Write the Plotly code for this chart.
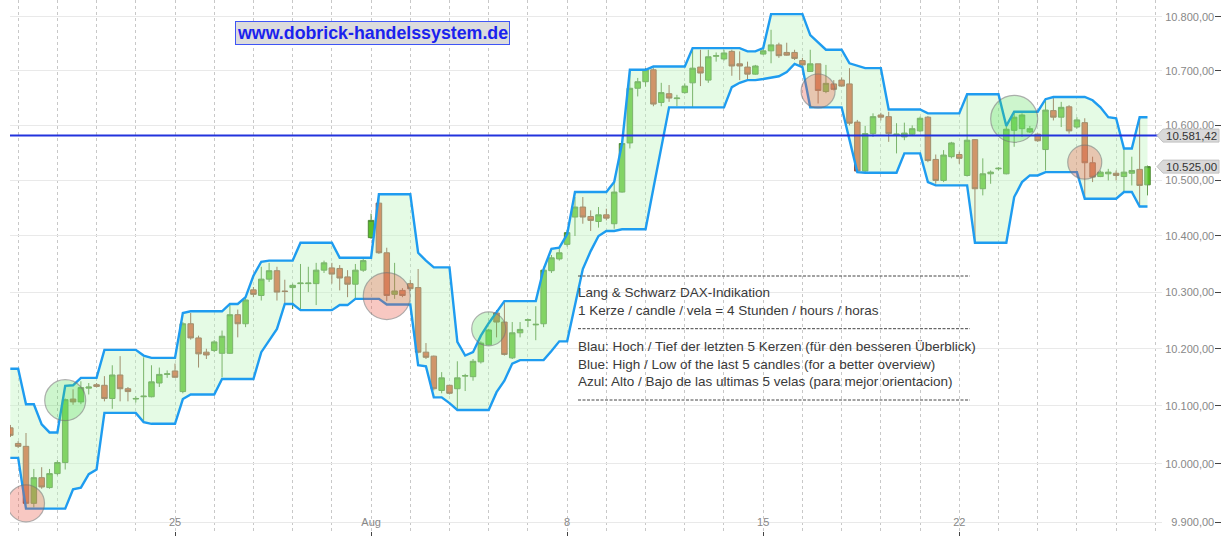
import math
import plotly.graph_objects as go

# ---------------- data (4-hour candles, Lang & Schwarz DAX indication) ----------------
opens = [
    10062, 10035, 10030, 9932, 9976, 9959, 9983, 10002, 10112, 10107,
    10131, 10137, 10136, 10113, 10154, 10130, 10112, 10116, 10116, 10140,
    10155, 10161, 10125, 10244, 10219, 10194, 10197, 10192, 10192, 10260,
    10244, 10304, 10294, 10323, 10338, 10302, 10308, 10315, 10315, 10315,
    10339, 10343, 10342, 10327, 10314, 10339, 10397, 10459, 10370, 10296,
    10303, 10315, 10308, 10194, 10187, 10127, 10136, 10130, 10152, 10151,
    10177, 10207, 10263, 10247, 10184, 10228, 10250, 10242, 10244, 10338,
    10359, 10385, 10434, 10452, 10435, 10426, 10438, 10422, 10479, 10568,
    10668, 10680, 10702, 10642, 10658, 10649, 10660, 10678, 10707, 10683,
    10727, 10722, 10736, 10713, 10707, 10694, 10731, 10737, 10748, 10734,
    10734, 10719, 10699, 10713, 10662, 10676, 10683, 10676, 10606, 10517,
    10585, 10619, 10616, 10583, 10579, 10584, 10590, 10615, 10538, 10500,
    10543, 10547, 10509, 10574, 10485, 10512, 10521, 10512, 10591, 10594,
    10588, 10584, 10556, 10627, 10615, 10634, 10597, 10605, 10532, 10507,
    10512, 10513, 10507, 10513, 10520, 10492]

highs = [
    10067, 10039, 10053, 9991, 9994, 9991, 10006, 10113, 10129, 10143,
    10140, 10140, 10152, 10171, 10187, 10133, 10117, 10185, 10171, 10167,
    10162, 10174, 10247, 10263, 10223, 10200, 10215, 10232, 10277, 10269,
    10291, 10309, 10345, 10352, 10345, 10322, 10315, 10350, 10345, 10352,
    10356, 10352, 10348, 10339, 10350, 10359, 10440, 10476, 10379, 10352,
    10307, 10322, 10341, 10210, 10188, 10159, 10136, 10178, 10156, 10182,
    10213, 10235, 10268, 10282, 10247, 10247, 10253, 10275, 10345, 10366,
    10377, 10411, 10470, 10470, 10446, 10452, 10449, 10497, 10571, 10702,
    10687, 10705, 10705, 10678, 10674, 10656, 10677, 10739, 10739, 10739,
    10734, 10739, 10739, 10736, 10717, 10711, 10742, 10776, 10752, 10752,
    10739, 10724, 10739, 10713, 10711, 10683, 10688, 10705, 10610, 10599,
    10622, 10623, 10625, 10604, 10605, 10600, 10616, 10617, 10547, 10555,
    10570, 10552, 10656, 10575, 10540, 10518, 10524, 10600, 10625, 10622,
    10599, 10585, 10650, 10650, 10643, 10637, 10615, 10613, 10543, 10518,
    10521, 10518, 10558, 10543, 10614, 10527]

lows = [
    10046, 10027, 9930, 9925, 9957, 9957, 9980, 9990, 10102, 10103,
    10120, 10132, 10108, 10095, 10108, 10108, 10106, 10072, 10115, 10133,
    10149, 10149, 10122, 10216, 10167, 10182, 10194, 10150, 10191, 10220,
    10238, 10291, 10285, 10318, 10285, 10279, 10270, 10268, 10300, 10277,
    10334, 10315, 10303, 10291, 10288, 10336, 10395, 10368, 10284, 10288,
    10291, 10302, 10192, 10182, 10127, 10122, 10120, 10095, 10126, 10144,
    10174, 10206, 10220, 10188, 10182, 10220, 10238, 10215, 10238, 10334,
    10356, 10381, 10400, 10422, 10409, 10415, 10428, 10413, 10478, 10558,
    10653, 10671, 10635, 10635, 10643, 10635, 10658, 10633, 10672, 10678,
    10717, 10719, 10691, 10683, 10683, 10693, 10729, 10714, 10724, 10728,
    10720, 10709, 10698, 10640, 10659, 10664, 10671, 10600, 10515, 10515,
    10579, 10609, 10570, 10549, 10573, 10582, 10588, 10533, 10494, 10497,
    10540, 10530, 10507, 10391, 10473, 10494, 10518, 10511, 10561, 10579,
    10586, 10570, 10518, 10609, 10597, 10585, 10594, 10469, 10497, 10506,
    10500, 10500, 10479, 10491, 10453, 10473]

closes = [
    10049, 10030, 9932, 9976, 9960, 9983, 10002, 10111, 10107, 10132,
    10133, 10134, 10113, 10154, 10130, 10125, 10113, 10117, 10142, 10155,
    10156, 10150, 10244, 10219, 10191, 10189, 10212, 10222, 10260, 10244,
    10286, 10296, 10323, 10338, 10300, 10301, 10312, 10316, 10316, 10339,
    10352, 10332, 10325, 10314, 10339, 10356, 10428, 10370, 10294, 10302,
    10294, 10306, 10194, 10185, 10130, 10149, 10122, 10149, 10153, 10178,
    10210, 10233, 10247, 10190, 10228, 10234, 10251, 10243, 10339, 10361,
    10370, 10406, 10452, 10434, 10428, 10438, 10432, 10479, 10567, 10668,
    10680, 10702, 10639, 10660, 10650, 10650, 10672, 10705, 10696, 10726,
    10728, 10733, 10709, 10709, 10694, 10709, 10737, 10748, 10728, 10729,
    10723, 10711, 10713, 10664, 10677, 10666, 10672, 10604, 10517, 10585,
    10616, 10615, 10585, 10584, 10586, 10594, 10613, 10536, 10500, 10546,
    10568, 10540, 10573, 10485, 10512, 10515, 10522, 10593, 10615, 10619,
    10594, 10572, 10628, 10615, 10633, 10590, 10610, 10532, 10506, 10515,
    10515, 10509, 10515, 10518, 10491, 10525]

# blue channel: high / low of the last 5 candles
upper_band = [
    10165, 10165, 10103, 10103, 10068, 10054, 10054, 10135, 10136, 10149,
    10149, 10149, 10198, 10198, 10198, 10198, 10198, 10188, 10184, 10184,
    10184, 10184, 10263, 10266, 10266, 10266, 10266, 10266, 10279, 10279,
    10291, 10329, 10354, 10356, 10356, 10356, 10356, 10388, 10388, 10388,
    10388, 10388, 10361, 10361, 10361, 10361, 10361, 10475, 10475, 10475,
    10475, 10475, 10370, 10356, 10344, 10344, 10344, 10212, 10188, 10194,
    10223, 10245, 10265, 10284, 10284, 10284, 10284, 10284, 10341, 10377,
    10379, 10403, 10479, 10479, 10479, 10479, 10479, 10497, 10567, 10702,
    10702, 10702, 10708, 10708, 10708, 10708, 10708, 10742, 10742, 10742,
    10742, 10742, 10742, 10742, 10736, 10736, 10742, 10805, 10805, 10805,
    10805, 10805, 10766, 10752, 10739, 10739, 10739, 10714, 10709, 10705,
    10705, 10705, 10629, 10629, 10629, 10629, 10629, 10622, 10622, 10622,
    10622, 10622, 10657, 10657, 10657, 10657, 10657, 10599, 10625, 10625,
    10625, 10625, 10648, 10652, 10652, 10652, 10652, 10652, 10646, 10633,
    10615, 10613, 10558, 10558, 10615, 10615]

lower_band = [
    10010, 10010, 9923, 9923, 9923, 9923, 9923, 9923, 9956, 9959,
    9982, 9990, 10088, 10088, 10088, 10088, 10088, 10072, 10069, 10069,
    10069, 10069, 10112, 10120, 10120, 10120, 10120, 10147, 10147, 10147,
    10147, 10147, 10194, 10215, 10235, 10279, 10279, 10268, 10268, 10268,
    10268, 10268, 10277, 10277, 10288, 10288, 10288, 10288, 10278, 10278,
    10278, 10278, 10171, 10169, 10115, 10115, 10105, 10093, 10093, 10093,
    10093, 10093, 10124, 10144, 10174, 10180, 10180, 10180, 10180, 10196,
    10213, 10213, 10275, 10341, 10373, 10400, 10409, 10409, 10412, 10412,
    10412, 10412, 10486, 10560, 10633, 10633, 10633, 10633, 10633, 10633,
    10633, 10633, 10670, 10678, 10683, 10683, 10685, 10687, 10690, 10698,
    10713, 10707, 10633, 10633, 10633, 10633, 10633, 10574, 10515, 10514,
    10514, 10514, 10514, 10514, 10549, 10549, 10549, 10497, 10491, 10491,
    10491, 10491, 10491, 10388, 10388, 10388, 10388, 10388, 10470, 10497,
    10509, 10509, 10515, 10515, 10515, 10515, 10515, 10467, 10467, 10467,
    10467, 10467, 10479, 10479, 10453, 10453]

# signal circles (candle index, price level, kind, diameter)
signal_idx = [2, 7, 48, 61, 103, 128, 137]
signal_val = [9932, 10110, 10293, 10235, 10663, 10612, 10533]
signal_kind = ["red", "green", "red", "green", "red", "green", "red"]
signal_size = [37, 41, 47, 34, 34, 47, 34]

# x axis: 5 candles per trading day, Mondays labelled
x_tick_idx = [21, 46, 71, 96, 121]
x_tick_labels = ["25", "Aug", "8", "15", "22"]
day_start_idx = 1          # first candle of a trading day
candles_per_day = 5

y_tick_vals = [9900, 10000, 10100, 10200, 10300, 10400, 10500, 10600, 10700, 10800]

ref_price = 10581.42
last_price = closes[-1]

# ---------------- layout geometry ----------------
W, H = 1228, 536
PLOT_L, PLOT_R, PLOT_B = 10, 1162, 531
BAND_COLOR = "#1e9cf0"


def de_fmt(v):
    s = f"{v:,.2f}"
    return s.replace(",", "X").replace(".", ",").replace("X", ".")


n = len(opens)
x_idx = list(range(n))

fig = go.Figure()
fig.add_trace(go.Scatter(x=x_idx, y=lower_band, mode="lines",
                         line=dict(color=BAND_COLOR, width=2.4), hoverinfo="skip"))
fig.add_trace(go.Scatter(x=x_idx, y=upper_band, mode="lines",
                         line=dict(color=BAND_COLOR, width=2.4),
                         fill="tonexty", fillcolor="rgba(190,245,190,0.40)", hoverinfo="skip"))
fig.add_trace(go.Candlestick(
    x=x_idx, open=opens, high=highs, low=lows, close=closes,
    increasing=dict(fillcolor="#5abf2a", line=dict(color="#4f8a36", width=1)),
    decreasing=dict(fillcolor="#dc5631", line=dict(color="#8e4c38", width=1)),
    whiskerwidth=0))
fig.add_trace(go.Scatter(
    x=signal_idx, y=signal_val, mode="markers", hoverinfo="skip",
    marker=dict(size=signal_size,
                color=["rgba(236,85,65,0.45)" if k == "red" else "rgba(70,220,70,0.38)"
                       for k in signal_kind],
                line=dict(color="rgba(115,115,115,0.8)", width=1.2))))

fig.update_layout(
    width=W, height=H,
    margin=dict(l=0, r=0, t=0, b=H - PLOT_B),
    paper_bgcolor="white", plot_bgcolor="white",
    showlegend=False, separators=",.",
    boxgap=0.2, boxgroupgap=0.12,
    font=dict(family="Liberation Sans, Arial, sans-serif", size=11, color="#888"),
)

fig.update_xaxes(
    domain=[PLOT_L / W, PLOT_R / W],
    range=[-0.04, 146.85],
    tickmode="array", tickvals=x_tick_idx, ticktext=x_tick_labels,
    ticks="outside", ticklen=5, tickcolor="#444", tickwidth=1,
    ticklabelposition="inside", ticklabeloverflow="allow",
    tickfont=dict(size=11, color="#888"),
    showgrid=True, griddash="dot", gridcolor="#c8c8c8", gridwidth=1,
    minor=dict(tick0=day_start_idx, dtick=candles_per_day, showgrid=True,
               griddash="dot", gridcolor="#c8c8c8", gridwidth=1, ticks=""),
    showline=False, zeroline=False,
    rangeslider=dict(visible=False),
)

fig.update_yaxes(
    type="log",
    range=[math.log10(9884.8), math.log10(10831.4)],
    side="right", anchor="free", position=1221 / W,
    tickmode="array", tickvals=y_tick_vals, tickformat=",.2f",
    ticks="inside", ticklen=6, tickcolor="#444", tickwidth=1,
    ticklabelposition="inside", ticklabeloverflow="allow",
    tickfont=dict(size=11, color="#888"),
    showgrid=True, gridcolor="#e9e9e9", gridwidth=1,
    showline=False, zeroline=False,
)

# reference price line
fig.add_shape(type="line", xref="x domain", yref="y", x0=0, x1=1,
              y0=ref_price, y1=ref_price, line=dict(color="#2233dd", width=2), layer="above")

# price tags
for val in (ref_price, last_price):
    fig.add_shape(type="path", xref="paper", yref="y",
                  xsizemode="pixel", ysizemode="pixel",
                  xanchor=1157 / W, yanchor=val,
                  path="M0,0 L6,6.5 L62,6.5 L62,-6.5 L6,-6.5 Z",
                  fillcolor="#d9d9d9", line=dict(color="#c2c2c2", width=1), layer="above")
    fig.add_annotation(x=1191 / W, xref="paper", y=math.log10(val), yref="y",
                       text=de_fmt(val), showarrow=False,
                       font=dict(size=11.5, color="#333"), xanchor="center", yanchor="middle")

# website label
fig.add_annotation(x=372 / W, y=1 - 33 / PLOT_B, xref="paper", yref="paper",
                   text="<b>www.dobrick-handelssystem.de</b>", showarrow=False,
                   font=dict(size=17.8, color="#1a22ee"),
                   bgcolor="#dcdcdc", bordercolor="#3f55f5", borderwidth=1, borderpad=1,
                   xanchor="center", yanchor="middle")

# explanation text block
info_lines = [
    ("Lang & Schwarz DAX-Indikation", 292.7),
    ("1 Kerze / candle / vela = 4 Stunden / hours / horas", 310.3),
    ("Blau: Hoch / Tief der letzten 5 Kerzen (für den besseren Überblick)", 346.0),
    ("Blue: High / Low of the last 5 candles (for a better overview)", 364.0),
    ("Azul: Alto / Bajo de las ultimas 5 velas (para mejor orientacion)", 381.7),
]
for txt, py in info_lines:
    fig.add_annotation(x=575.5 / W, y=1 - py / PLOT_B, xref="paper", yref="paper",
                       text=txt, showarrow=False, xanchor="left", yanchor="middle",
                       font=dict(size=13.5, color="#3a3a3a"))
for py in (276, 328.7, 400):
    fig.add_shape(type="line", xref="paper", yref="paper",
                  x0=578 / W, x1=970 / W, y0=1 - py / PLOT_B, y1=1 - py / PLOT_B,
                  line=dict(color="#444", width=1, dash="3px,1.5px"), layer="above")

# the page itself gets no body margin so the chart sits at the window origin
fig.write_html("out.html", config={"displayModeBar": False},
               post_script="document.body.style.margin='0';")
